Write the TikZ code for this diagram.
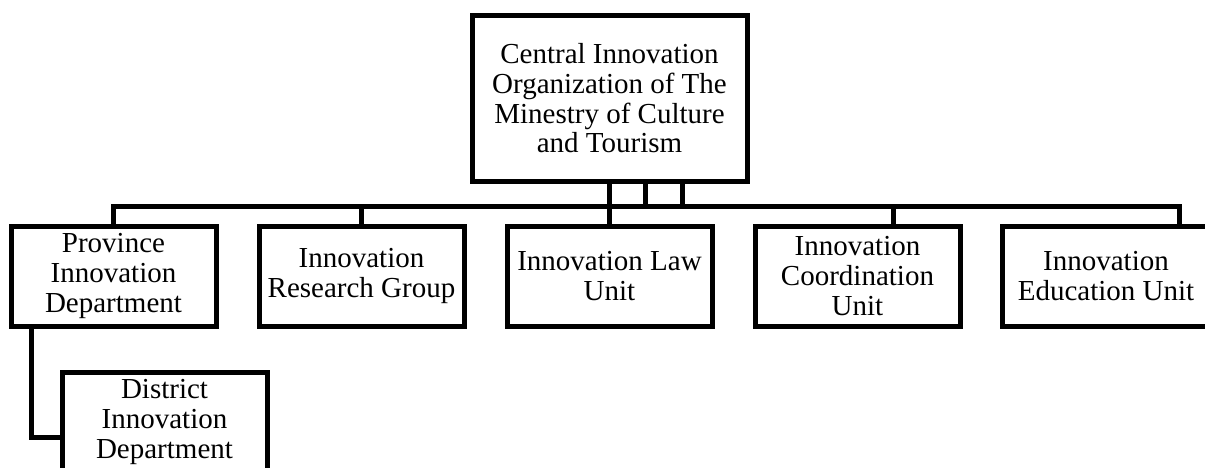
\documentclass[tikz,border=0pt]{standalone}
\usepackage{fontspec}
\setmainfont{Liberation Serif}
\usetikzlibrary{positioning}

\begin{document}
\begin{tikzpicture}[x=1pt,y=1pt,line width=5pt,node distance=43pt,
  orgbox/.style={draw,rectangle,outer sep=0pt,inner sep=2pt,align=center,
    minimum width=205pt,minimum height=100pt,
    font=\fontsize{29}{29.7}\selectfont}]

\path [use as bounding box,clip] (0,0) rectangle (1205,-468);

\node [orgbox,minimum width=275pt,minimum height=165pt] (top) at (609.5,-98.5)
  {Central Innovation\\Organization of The\\Minestry of Culture\\and Tourism};

\node [orgbox,below =45pt of top] (law) {Innovation Law\\Unit};
\node [orgbox,left = of law] (res) {Innovation\\Research Group};
\node [orgbox,left = of res] (prov) {Province\\Innovation\\Department};
\node [orgbox,right = of law] (coord) {Innovation\\Coordination\\Unit};
\node [orgbox,right = 42pt of coord,minimum width=208pt] (edu) {Innovation\\Education Unit};

\node [orgbox,below =46pt of prov,xshift=51pt] (dist) {District\\Innovation\\Department};

\path (top.south) ++(0,-25) coordinate (bus);
\path (top.south) ++(36,0) coordinate (tap2) ++(37,0) coordinate (tap3);
\path (coord.north) ++(36,0) coordinate (tapc);
\path (edu.west |- edu.north) ++(177,0) coordinate (tape);
\path (prov.south west) ++(20,0) coordinate (drop);

\draw (top.south) to (law.north);
\draw (tap2) to (tap2 |- bus);
\draw (tap3) to (tap3 |- bus);
\draw (prov.north) |- (bus) -| (tape);
\draw (res.north) to (res.north |- bus);
\draw (tapc |- bus) to (tapc);

\draw (drop) |- ([yshift=-15pt]dist.west);

\end{tikzpicture}
\end{document}
